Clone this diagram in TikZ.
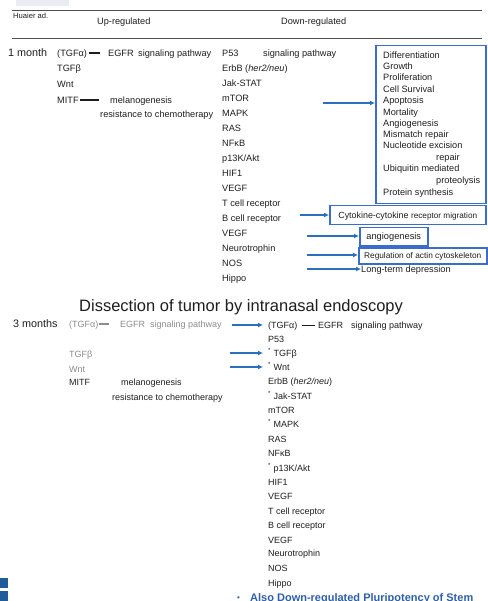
\documentclass[tikz,border=0pt]{standalone}
\usepackage{fontspec}
\setmainfont{Liberation Sans}
\usetikzlibrary{arrows.meta,calc}
\definecolor{ink}{HTML}{1E1E1E}
\definecolor{faded}{HTML}{8C8C8C}
\definecolor{boxblue}{HTML}{3A6CCB}
\definecolor{arrowblue}{HTML}{2A70BE}
\definecolor{barblue}{HTML}{1F5C99}
\definecolor{headgray}{HTML}{E9EDF3}
\definecolor{noteblue}{HTML}{2F5FA8}
\definecolor{rulegray}{HTML}{505050}

\begin{document}
\begin{tikzpicture}[x=1pt,y=-1pt,
  txt/.style={anchor=west, inner sep=0pt, text=ink,
    font=\fontsize{9.2}{11}\selectfont, text height=6.6pt, text depth=0pt},
  txs/.style={txt, font=\fontsize{9}{11}\selectfont, text height=6.4pt},
  dim/.style={txs, text=faded},
  big/.style={txt, font=\fontsize{10.8}{12}\selectfont, text height=7.7pt},
  box/.style={draw=boxblue, line width=1.5pt, inner sep=0pt, text=ink,
    anchor=north west, text height=6.4pt, text depth=0pt},
  arr/.style={draw=arrowblue, line width=1.8pt,
    -{Latex[length=5pt,width=5pt]}},
  heavy/.style={draw=ink, line width=2pt},
  rulel/.style={draw=rulegray, line width=0.9pt}
]
\useasboundingbox (0,0) rectangle (487,601);

% header
\fill[headgray] (16,0) rectangle (69,6.5);
\draw[rulel] (12,10) -- (482,10);
\draw[rulel] (12,38) -- (482,38);
\node[txt, font=\fontsize{7.6}{9}\selectfont, text height=5.4pt] (hd) at (13,16) {Huaier ad.};
\node[txt] (uphead) at (97,21) {Up-regulated};
\node[txt] (downhead) at (281,21) {Down-regulated};

% ---------- 1 month ----------
\node[big] (m1) at (8,53) {1 month};
\node[txt] (u0) at (57,53) {(TGFα)};
\node[txt] (egfr1) at (108,53) {EGFR};
\node[txt] (sig1) at (138,53) {signaling pathway};
\draw[heavy, shorten <=2pt, shorten >=8pt] (u0.east) -- (egfr1.west);
\node[txt] (u1) at (57,68) {TGFβ};
\node[txt] (u2) at (57,84) {Wnt};
\node[txt] (u3) at (57,100) {MITF};
\node[txt] (mel1) at (110,100) {melanogenesis};
\node[txt] (res1) at (100,114) {resistance to chemotherapy};
\draw[heavy, shorten <=1pt, shorten >=11pt] (u3.east) -- (mel1.west);

\foreach \w [count=\i from 0] in {P53, {ErbB (\textit{her2/neu})}, Jak-STAT, mTOR,
    MAPK, RAS, NFκB, {p13K/Akt}, HIF1, VEGF, T cell receptor, B cell receptor,
    VEGF, Neurotrophin, NOS, Hippo}
  \node[txt] (d\i) at (222,{53+15*\i}) {\w};
\node[txt] (sigp53) at (263,53) {signaling pathway};

% outcome box
\node[box, minimum width=110pt, minimum height=158pt] (fx) at (375,45) {};
\foreach \w/\yy [count=\i] in {Differentiation/55, Growth/66, Proliferation/77,
    Cell Survival/89, Apoptosis/100, Mortality/112, Angiogenesis/123,
    Mismatch repair/134, Nucleotide excision/145, Ubiquitin mediated/168,
    Protein synthesis/192}
  \node[txt] (fx\i) at (383,\yy) {\w};
\node[txt] (fxa) at (436,157) {repair};
\node[txt] (fxb) at (436,180) {proteolysis};

\node[box, minimum width=156pt, minimum height=19pt,
  font=\fontsize{8.9}{10}\selectfont] (cyto) at (329,205)
  {Cytokine-cytokine {\fontsize{8.2}{9}\selectfont receptor migration}};
\node[box, minimum width=68pt, minimum height=18pt,
  font=\fontsize{9.3}{10}\selectfont] (angio) at (359,227) {angiogenesis};
\node[box, minimum width=128pt, minimum height=16pt,
  font=\fontsize{8.3}{9}\selectfont, text height=6pt] (reg) at (358,247)
  {Regulation of actin cytoskeleton};
\node[txt] (ltd) at (361,269) {Long-term depression};

\coordinate (a0) at (323,103);
\coordinate (a1) at (300,215);
\coordinate (a2) at (307,236);
\coordinate (a3) at (307,255);
\coordinate (a4) at (307,269);
\draw[arr] (a0) -- (a0 -| fx.west);
\draw[arr] (a1) -- (a1 -| cyto.west);
\draw[arr] (a2) -- (a2 -| angio.west);
\draw[arr] (a3) -- (a3 -| reg.west);
\draw[arr] (a4) -- (ltd.west);

% ---------- title ----------
\node[txt, font=\fontsize{16.5}{18}\selectfont, text height=11.8pt] (title)
  at (79,306) {Dissection of tumor by intranasal endoscopy};

% ---------- 3 months ----------
\node[big] (m3) at (13,324) {3 months};
\node[dim] (g0) at (69,324) {(TGFα)};
\node[dim] (gegfr) at (120,324) {EGFR};
\node[dim] (gsig) at (150,324) {signaling pathway};
\draw[draw=faded, line width=1.2pt, shorten >=11pt] (g0.east) -- (gegfr.west);
\node[dim] (g1) at (69,354) {TGFβ};
\node[dim] (g2) at (69,369) {Wnt};
\node[txs] (g3) at (69,382) {MITF};
\node[txs] (mel3) at (121,382) {melanogenesis};
\node[txs] (res3) at (112,397) {resistance to chemotherapy};

\foreach \yy/\w [count=\i from 0] in {325/(TGFα), 339/P53,
    353/{\textsuperscript{*} TGFβ}, 367/{\textsuperscript{*} Wnt},
    381/{ErbB (\textit{her2/neu})}, 396/{\textsuperscript{*} Jak-STAT},
    410/mTOR, 424/{\textsuperscript{*} MAPK}, 439/RAS, 453/NFκB,
    468/{\textsuperscript{*} p13K/Akt}, 482/HIF1, 496/VEGF,
    511/T cell receptor, 525/B cell receptor, 540/VEGF, 553/Neurotrophin,
    568/NOS, 583/Hippo}
  \node[txs] (r\i) at (268,\yy) {\w};
\node[txs] (egfr3) at (318,325) {EGFR};
\node[txs] (sig3) at (351,325) {signaling pathway};
\draw[draw=ink, line width=0.9pt, shorten <=4.4pt, shorten >=3pt] (r0.east) -- (egfr3.west);

\coordinate (b0) at (232,325);
\coordinate (b1) at (230,353);
\coordinate (b2) at (230,367);
\draw[arr, shorten >=5pt] (b0) -- (b0 -| r0.west);
\draw[arr, shorten >=5pt] (b1) -- (b1 -| r2.west);
\draw[arr, shorten >=5pt] (b2) -- (b2 -| r3.west);

% footer
\fill[barblue] (0,578) rectangle (8,588);
\fill[barblue] (0,591) rectangle (8,601);
\node[anchor=base west, inner sep=0pt, text=noteblue,
  font=\fontsize{8}{9}\selectfont] (dot) at (237,600) {•};
\node[anchor=base west, inner sep=0pt, text=noteblue,
  font=\bfseries\fontsize{11}{12}\selectfont] (note) at (250,601.5)
  {Also Down-regulated Pluripotency of Stem};
\end{tikzpicture}
\end{document}
